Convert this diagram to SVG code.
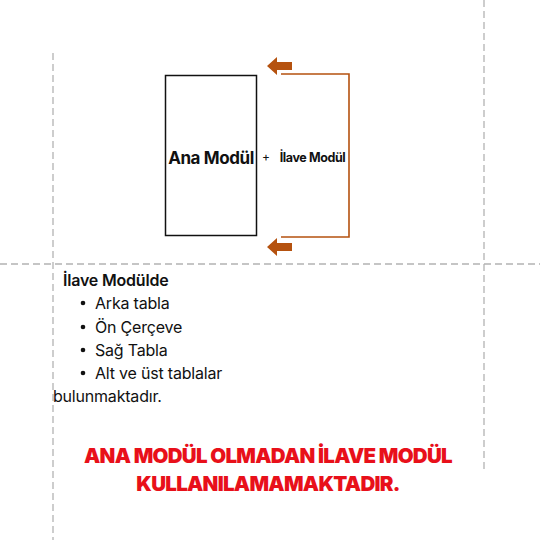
<svg xmlns="http://www.w3.org/2000/svg" width="540" height="540" viewBox="0 0 540 540">
<style>
.guide{stroke:#b3b3b3;stroke-width:1.3;stroke-dasharray:7,4;fill:none}
.brown{stroke:#b5520f;fill:none;stroke-width:1.6}
.txt{font-family:Inter,"Noto Sans",sans-serif;fill:#111}
.red{font-family:Inter,"Noto Sans",sans-serif;fill:#e8101a;font-weight:900;font-size:20.5px;text-anchor:middle;letter-spacing:-0.7px}
</style>
<defs>
<path id="arr" d="M267,0 L277,-9 L277,-4 L292,-4 L292,4 L277,4 L277,9 Z" fill="#b5520f"/>
</defs>
<rect width="540" height="540" fill="#fff"/>
<g id="guides">
<line class="guide" x1="53" y1="53" x2="53" y2="540"/>
<line class="guide" x1="484" y1="0" x2="484" y2="472"/>
<line class="guide" x1="0" y1="264" x2="540" y2="264"/>
</g>
<g id="ana-modul">
<rect x="165.5" y="75.5" width="91" height="160" fill="#fff" stroke="#111" stroke-width="1.5"/>
<text class="txt" x="211" y="164" font-size="17" font-weight="700" text-anchor="middle" letter-spacing="-0.4">Ana Modül</text>
</g>
<g id="plus"><text class="txt" x="266" y="161" font-size="12" text-anchor="middle">+</text></g>
<g id="ilave-modul"><text class="txt" x="312.5" y="162" font-size="12.5" font-weight="700" text-anchor="middle" letter-spacing="-0.4">İlave Modül</text></g>
<g id="connectors">
<polyline class="brown" points="281,74 349,74 349,237 281,237"/>
<use href="#arr" transform="translate(0,66)"/>
<use href="#arr" transform="translate(0,247)"/>
</g>
<g id="list" class="txt" font-size="16" letter-spacing="-0.2">
<text x="63" y="286" font-weight="600">İlave Modülde</text>
<circle cx="83" cy="303" r="2.3" fill="#111"/><text x="95" y="309">Arka tabla</text>
<circle cx="83" cy="327" r="2.3" fill="#111"/><text x="95" y="333">Ön Çerçeve</text>
<circle cx="83" cy="350" r="2.3" fill="#111"/><text x="95" y="356">Sağ Tabla</text>
<circle cx="83" cy="373" r="2.3" fill="#111"/><text x="95" y="379">Alt ve üst tablalar</text>
<text x="53" y="402">bulunmaktadır.</text>
</g>
<g id="warning">
<text class="red" x="268" y="463">ANA MODÜL OLMADAN İLAVE MODÜL</text>
<text class="red" x="268" y="491">KULLANILAMAMAKTADIR.</text>
</g>
</svg>
